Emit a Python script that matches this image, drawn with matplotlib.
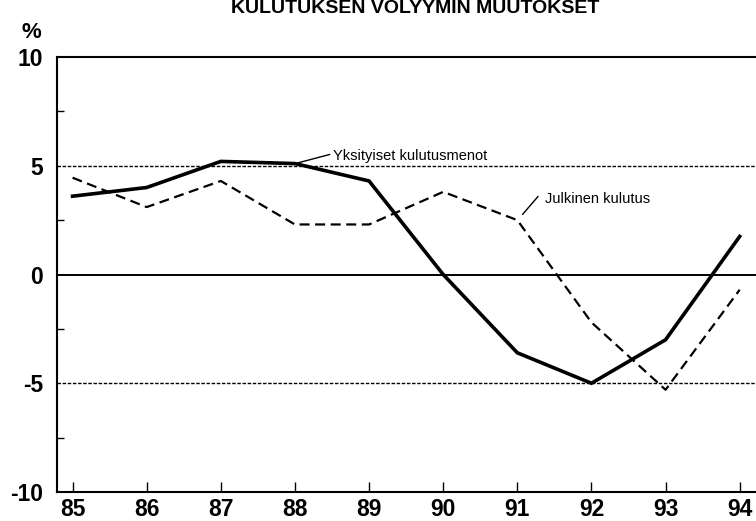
import matplotlib
matplotlib.use("Agg")
import matplotlib.pyplot as plt
from matplotlib.ticker import FixedLocator

plt.rcParams['font.family'] = ['Liberation Sans', 'DejaVu Sans']

YEARS = [85, 86, 87, 88, 89, 90, 91, 92, 93, 94]
YKSITYISET = [3.6, 4.0, 5.2, 5.1, 4.3, 0.0, -3.6, -5.0, -3.0, 1.75]
JULKINEN = [4.45, 3.1, 4.3, 2.3, 2.3, 3.8, 2.5, -2.2, -5.3, -0.7]
Y_LABELS = ['-10', '-5', '0', '5', '10']
Y_TICKS = [-10, -5, 0, 5, 10]

fig = plt.figure(figsize=(7.56, 5.21), dpi=100)
ax = fig.add_axes([57/756, 1 - 492/521, 1 - 57/756, (492 - 57)/521])

# reference lines
ax.axhline(0, color='black', lw=1.4, zorder=1)
for v in (5, -5):
    ax.axhline(v, color='black', lw=1.0, dashes=(2.5, 1.2), zorder=1)

ax.plot(YEARS, YKSITYISET, color='black', lw=2.6, solid_joinstyle='miter', zorder=3)
ax.plot(YEARS, JULKINEN, color='black', lw=1.6, dashes=(4.5, 2.5), zorder=2)

ax.set_xlim(84.79, 94.22)
ax.set_ylim(-10, 10)

ax.spines['right'].set_visible(False)
for s in ('left', 'top', 'bottom'):
    ax.spines[s].set_linewidth(1.5)

ax.set_xticks(YEARS)
ax.set_xticklabels([str(y) for y in YEARS], fontsize=16.5, fontweight='bold')
ax.tick_params(axis='x', direction='in', length=7, width=1, pad=4)

ax.set_yticks(Y_TICKS)
ax.set_yticklabels(Y_LABELS, fontsize=16.5, fontweight='bold')
ax.yaxis.set_minor_locator(FixedLocator([-7.5, -2.5, 2.5, 7.5]))
ax.tick_params(axis='y', which='major', length=0, pad=10)
ax.tick_params(axis='y', which='minor', direction='in', length=5, width=1)

# annotations: leader lines and labels
ax.annotate('', xy=(87.96, 5.06), xytext=(88.47, 5.52),
            arrowprops=dict(arrowstyle='-', color='black', lw=1.0, shrinkA=0, shrinkB=0))
ax.text(88.51, 5.47, 'Yksityiset kulutusmenot', fontsize=10.5, va='center', ha='left')
ax.annotate('', xy=(91.07, 2.76), xytext=(91.28, 3.59),
            arrowprops=dict(arrowstyle='-', color='black', lw=1.0, shrinkA=0, shrinkB=0))
ax.text(91.37, 3.45, 'Julkinen kulutus', fontsize=10.5, va='center', ha='left')

fig.text(22/756, 1 - 32/521, '%', fontsize=16, fontweight='bold', ha='left', va='center')
fig.text(415/756, 1 - 13/521, 'KULUTUKSEN VOLYYMIN MUUTOKSET', fontsize=14,
         fontweight='bold', ha='center', va='baseline')

fig.savefig('out.png', dpi=100)
